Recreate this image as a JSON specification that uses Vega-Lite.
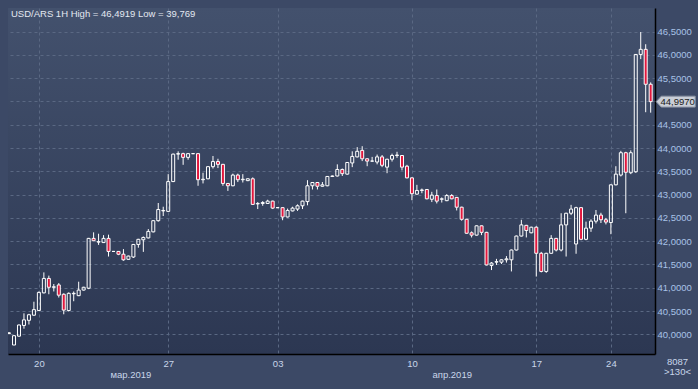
{
  "$schema": "https://vega.github.io/schema/vega-lite/v6.json",
  "width": 647,
  "height": 346,
  "autosize": {"type": "none"},
  "padding": {"left": 8, "top": 8, "right": 43, "bottom": 35},
  "background": "#3c4966",
  "title": {"text": "USD/ARS 1H High = 46,4919 Low = 39,769", "anchor": "start", "orient": "top", "offset": -18.5, "dx": 3, "baseline": "alphabetic", "font": "Liberation Sans", "fontSize": 9.5, "fontWeight": "normal", "color": "#e3e8f1"},
  "config": {
    "font": "Liberation Sans",
    "locale": {"number": {"decimal": ",", "thousands": " ", "grouping": [3], "currency": ["", ""]}},
    "view": {"stroke": null, "fill": {"gradient": "linear", "x1": 0, "y1": 0, "x2": 0, "y2": 1, "stops": [{"offset": 0, "color": "#43516d"}, {"offset": 1, "color": "#2c3752"}]}}
  },
  "data": {"values": [
    {"i":0,"o":40.02,"h":40.05,"l":40.0,"c":40.03},
    {"i":1,"o":39.77,"h":39.98,"l":39.769,"c":39.97},
    {"i":2,"o":39.96,"h":40.21,"l":39.95,"c":40.2},
    {"i":3,"o":40.19,"h":40.45,"l":40.12,"c":40.31},
    {"i":4,"o":40.3,"h":40.44,"l":40.21,"c":40.42},
    {"i":5,"o":40.41,"h":40.7,"l":40.4,"c":40.53},
    {"i":6,"o":40.51,"h":40.92,"l":40.5,"c":40.9},
    {"i":7,"o":40.89,"h":41.33,"l":40.88,"c":41.2},
    {"i":8,"o":41.2,"h":41.26,"l":40.86,"c":41.01},
    {"i":9,"o":41.01,"h":41.08,"l":40.92,"c":41.02},
    {"i":10,"o":41.06,"h":41.1,"l":40.79,"c":40.84},
    {"i":11,"o":40.86,"h":40.88,"l":40.43,"c":40.52},
    {"i":12,"o":40.51,"h":40.9,"l":40.49,"c":40.88},
    {"i":13,"o":40.87,"h":40.92,"l":40.71,"c":40.88},
    {"i":14,"o":40.83,"h":41.13,"l":40.82,"c":40.95},
    {"i":15,"o":40.95,"h":41.02,"l":40.94,"c":41.01},
    {"i":16,"o":40.99,"h":42.07,"l":40.97,"c":42.06},
    {"i":17,"o":42.06,"h":42.19,"l":42.0,"c":42.01},
    {"i":18,"o":41.98,"h":42.16,"l":41.92,"c":41.99},
    {"i":19,"o":41.97,"h":42.13,"l":41.96,"c":42.06},
    {"i":20,"o":42.06,"h":42.14,"l":41.67,"c":41.78},
    {"i":21,"o":41.78,"h":41.79,"l":41.77,"c":41.78},
    {"i":22,"o":41.78,"h":41.79,"l":41.7,"c":41.72},
    {"i":23,"o":41.72,"h":41.83,"l":41.58,"c":41.6},
    {"i":24,"o":41.61,"h":41.69,"l":41.6,"c":41.68},
    {"i":25,"o":41.66,"h":41.94,"l":41.64,"c":41.93},
    {"i":26,"o":41.93,"h":42.05,"l":41.86,"c":42.04},
    {"i":27,"o":42.03,"h":42.1,"l":41.77,"c":42.08},
    {"i":28,"o":42.07,"h":42.26,"l":42.06,"c":42.21},
    {"i":29,"o":42.2,"h":42.45,"l":42.19,"c":42.44},
    {"i":30,"o":42.44,"h":42.82,"l":42.42,"c":42.68},
    {"i":31,"o":42.65,"h":42.74,"l":42.54,"c":42.66},
    {"i":32,"o":42.64,"h":43.44,"l":42.63,"c":43.28},
    {"i":33,"o":43.28,"h":43.88,"l":43.27,"c":43.87},
    {"i":34,"o":43.87,"h":43.93,"l":43.75,"c":43.88},
    {"i":35,"o":43.88,"h":43.9,"l":43.64,"c":43.8},
    {"i":36,"o":43.8,"h":43.89,"l":43.75,"c":43.88},
    {"i":37,"o":43.88,"h":43.89,"l":43.87,"c":43.88},
    {"i":38,"o":43.88,"h":43.89,"l":43.19,"c":43.32},
    {"i":39,"o":43.32,"h":43.47,"l":43.24,"c":43.33},
    {"i":40,"o":43.34,"h":43.61,"l":43.33,"c":43.6},
    {"i":41,"o":43.6,"h":43.83,"l":43.56,"c":43.71},
    {"i":42,"o":43.71,"h":43.77,"l":43.57,"c":43.65},
    {"i":43,"o":43.65,"h":43.66,"l":43.19,"c":43.24},
    {"i":44,"o":43.24,"h":43.25,"l":43.08,"c":43.19},
    {"i":45,"o":43.19,"h":43.45,"l":43.18,"c":43.42},
    {"i":46,"o":43.42,"h":43.45,"l":43.27,"c":43.32},
    {"i":47,"o":43.32,"h":43.44,"l":43.26,"c":43.33},
    {"i":48,"o":43.3,"h":43.35,"l":43.29,"c":43.34},
    {"i":49,"o":43.34,"h":43.37,"l":42.78,"c":42.79},
    {"i":50,"o":42.8,"h":42.84,"l":42.69,"c":42.81},
    {"i":51,"o":42.81,"h":42.86,"l":42.76,"c":42.83},
    {"i":52,"o":42.81,"h":42.89,"l":42.8,"c":42.86},
    {"i":53,"o":42.86,"h":42.87,"l":42.69,"c":42.71},
    {"i":54,"o":42.72,"h":42.73,"l":42.71,"c":42.72},
    {"i":55,"o":42.72,"h":42.73,"l":42.45,"c":42.52},
    {"i":56,"o":42.52,"h":42.7,"l":42.51,"c":42.66},
    {"i":57,"o":42.65,"h":42.74,"l":42.64,"c":42.71},
    {"i":58,"o":42.69,"h":42.79,"l":42.65,"c":42.76},
    {"i":59,"o":42.76,"h":42.87,"l":42.69,"c":42.86},
    {"i":60,"o":42.85,"h":43.31,"l":42.77,"c":43.19},
    {"i":61,"o":43.19,"h":43.27,"l":43.11,"c":43.26},
    {"i":62,"o":43.26,"h":43.27,"l":43.11,"c":43.18},
    {"i":63,"o":43.18,"h":43.27,"l":43.17,"c":43.21},
    {"i":64,"o":43.19,"h":43.4,"l":43.18,"c":43.39},
    {"i":65,"o":43.39,"h":43.41,"l":43.38,"c":43.4},
    {"i":66,"o":43.4,"h":43.65,"l":43.39,"c":43.54},
    {"i":67,"o":43.54,"h":43.56,"l":43.4,"c":43.45},
    {"i":68,"o":43.44,"h":43.7,"l":43.43,"c":43.69},
    {"i":69,"o":43.68,"h":43.93,"l":43.59,"c":43.82},
    {"i":70,"o":43.81,"h":44.02,"l":43.8,"c":43.93},
    {"i":71,"o":43.95,"h":44.04,"l":43.72,"c":43.77},
    {"i":72,"o":43.77,"h":43.78,"l":43.61,"c":43.72},
    {"i":73,"o":43.72,"h":43.81,"l":43.71,"c":43.72},
    {"i":74,"o":43.7,"h":43.86,"l":43.65,"c":43.81},
    {"i":75,"o":43.81,"h":43.85,"l":43.59,"c":43.63},
    {"i":76,"o":43.59,"h":43.77,"l":43.46,"c":43.76},
    {"i":77,"o":43.76,"h":43.88,"l":43.71,"c":43.84},
    {"i":78,"o":43.84,"h":43.92,"l":43.79,"c":43.85},
    {"i":79,"o":43.84,"h":43.85,"l":43.52,"c":43.59},
    {"i":80,"o":43.61,"h":43.64,"l":43.35,"c":43.36},
    {"i":81,"o":43.36,"h":43.37,"l":42.88,"c":43.02},
    {"i":82,"o":43.01,"h":43.21,"l":43.0,"c":43.09},
    {"i":83,"o":43.09,"h":43.13,"l":43.03,"c":43.1},
    {"i":84,"o":43.11,"h":43.12,"l":42.9,"c":42.91},
    {"i":85,"o":42.9,"h":43.06,"l":42.84,"c":42.99},
    {"i":86,"o":42.98,"h":43.11,"l":42.81,"c":42.86},
    {"i":87,"o":42.9,"h":42.94,"l":42.83,"c":42.91},
    {"i":88,"o":42.87,"h":43.01,"l":42.86,"c":42.98},
    {"i":89,"o":42.98,"h":43.01,"l":42.9,"c":42.91},
    {"i":90,"o":42.94,"h":42.95,"l":42.66,"c":42.73},
    {"i":91,"o":42.73,"h":42.74,"l":42.44,"c":42.47},
    {"i":92,"o":42.47,"h":42.48,"l":42.16,"c":42.17},
    {"i":93,"o":42.18,"h":42.21,"l":42.08,"c":42.13},
    {"i":94,"o":42.13,"h":42.34,"l":42.12,"c":42.33},
    {"i":95,"o":42.33,"h":42.34,"l":42.13,"c":42.19},
    {"i":96,"o":42.19,"h":42.2,"l":41.48,"c":41.49},
    {"i":97,"o":41.48,"h":41.55,"l":41.38,"c":41.53},
    {"i":98,"o":41.55,"h":41.62,"l":41.49,"c":41.56},
    {"i":99,"o":41.55,"h":41.61,"l":41.51,"c":41.6},
    {"i":100,"o":41.6,"h":41.68,"l":41.54,"c":41.62},
    {"i":101,"o":41.6,"h":41.82,"l":41.35,"c":41.81},
    {"i":102,"o":41.81,"h":42.12,"l":41.8,"c":42.11},
    {"i":103,"o":42.11,"h":42.46,"l":42.1,"c":42.35},
    {"i":104,"o":42.34,"h":42.35,"l":42.08,"c":42.23},
    {"i":105,"o":42.18,"h":42.31,"l":42.17,"c":42.3},
    {"i":106,"o":42.3,"h":42.32,"l":41.24,"c":41.74},
    {"i":107,"o":41.74,"h":41.77,"l":41.33,"c":41.35},
    {"i":108,"o":41.35,"h":41.75,"l":41.32,"c":41.74},
    {"i":109,"o":41.74,"h":42.13,"l":41.73,"c":42.06},
    {"i":110,"o":42.06,"h":42.07,"l":41.78,"c":41.81},
    {"i":111,"o":41.81,"h":42.6,"l":41.78,"c":42.35},
    {"i":112,"o":42.35,"h":42.61,"l":41.67,"c":42.6},
    {"i":113,"o":42.6,"h":42.78,"l":42.56,"c":42.69},
    {"i":114,"o":41.94,"h":42.74,"l":41.73,"c":42.72},
    {"i":115,"o":42.72,"h":42.73,"l":42.02,"c":42.04},
    {"i":116,"o":42.04,"h":42.42,"l":42.02,"c":42.28},
    {"i":117,"o":42.28,"h":42.47,"l":42.2,"c":42.43},
    {"i":118,"o":42.43,"h":42.67,"l":42.38,"c":42.56},
    {"i":119,"o":42.56,"h":42.61,"l":42.39,"c":42.46},
    {"i":120,"o":42.46,"h":42.5,"l":42.36,"c":42.41},
    {"i":121,"o":42.4,"h":43.22,"l":42.15,"c":43.21},
    {"i":122,"o":43.21,"h":43.61,"l":43.2,"c":43.44},
    {"i":123,"o":43.42,"h":43.94,"l":43.39,"c":43.9},
    {"i":124,"o":43.9,"h":43.92,"l":42.6,"c":43.48},
    {"i":125,"o":43.47,"h":43.95,"l":43.44,"c":43.9},
    {"i":126,"o":43.49,"h":46.02,"l":43.47,"c":46.01},
    {"i":127,"o":46.01,"h":46.4919,"l":45.91,"c":46.12},
    {"i":128,"o":46.12,"h":46.23,"l":44.77,"c":45.37},
    {"i":129,"o":45.37,"h":45.41,"l":44.76,"c":44.997}
  ]},
  "transform": [
    {"calculate": "max(datum.o, datum.c)", "as": "top"},
    {"calculate": "min(datum.o, datum.c)", "as": "bot"}
  ],
  "resolve": {"axis": {"x": "independent"}},
  "layer": [
    {
      "mark": {"type": "rule", "color": "#ffffff", "strokeWidth": 1, "clip": true},
      "encoding": {
        "x": {"field": "i", "type": "quantitative",
          "scale": {"domain": [-0.21, 129.87], "nice": false, "zero": false, "padding": 0},
          "axis": {"orient": "bottom", "values": [6, 32, 54, 81, 106, 121],
            "labelExpr": "datum.value == 6 ? '20' : datum.value == 32 ? '27' : datum.value == 54 ? '03' : datum.value == 81 ? '10' : datum.value == 106 ? '17' : '24'",
            "grid": true, "gridColor": "#5a6883", "gridDash": [3, 3], "gridWidth": 1,
            "ticks": false, "domain": true, "domainColor": "#000000", "domainWidth": 1.5,
            "labelColor": "#c9d6ea", "labelFont": "Liberation Sans", "labelFontSize": 9.5, "labelPadding": 4,
            "labelOverlap": false, "labelFlush": false,
            "title": "8087", "titleX": 669, "titleY": 2.5, "titleBaseline": "top", "titleAlign": "center", "titleAngle": 0,
            "titleFont": "Liberation Sans", "titleFontSize": 9.5, "titleFontWeight": "normal", "titleColor": "#c9d6ea"}},
        "y": {"field": "h", "type": "quantitative",
          "scale": {"domain": [39.577, 47.008], "nice": false, "zero": false},
          "axis": {"orient": "right", "values": [40, 40.5, 41, 41.5, 42, 42.5, 43, 43.5, 44, 44.5, 45, 45.5, 46, 46.5],
            "format": ".4f", "labelExpr": "datum.value == 45 ? '' : datum.label",
            "grid": true, "gridColor": "#5a6883", "gridDash": [3, 3], "gridWidth": 1, "zindex": 0,
            "ticks": false, "domain": true, "domainColor": "#000000", "domainWidth": 1.5,
            "labelColor": "#a9c2e6", "labelFont": "Liberation Sans", "labelFontSize": 9.5, "labelPadding": 2, "title": null}},
        "y2": {"field": "top"}
      }
    },
    {
      "mark": {"type": "rule", "color": "#ffffff", "strokeWidth": 1, "clip": true},
      "encoding": {
        "x": {"field": "i", "type": "quantitative",
          "scale": {"domain": [-0.21, 129.87], "nice": false, "zero": false, "padding": 0},
          "axis": {"orient": "bottom", "values": [24.4, 89],
            "labelExpr": "datum.value < 50 ? 'мар.2019' : 'апр.2019'",
            "grid": false, "ticks": false, "domain": false,
            "labelColor": "#c9d6ea", "labelFont": "Liberation Sans", "labelFontSize": 9.5, "labelPadding": 15,
            "labelOverlap": false, "labelFlush": false,
            "title": ">130<", "titleX": 669, "titleY": 12.5, "titleBaseline": "top", "titleAlign": "center", "titleAngle": 0,
            "titleFont": "Liberation Sans", "titleFontSize": 9.5, "titleFontWeight": "normal", "titleColor": "#c9d6ea"}},
        "y": {"field": "bot", "type": "quantitative",
          "scale": {"domain": [39.577, 47.008], "nice": false, "zero": false},
          "axis": {"orient": "right", "values": [40, 40.5, 41, 41.5, 42, 42.5, 43, 43.5, 44, 44.5, 45, 45.5, 46, 46.5],
            "format": ".4f", "labelExpr": "datum.value == 45 ? '' : datum.label",
            "grid": true, "gridColor": "#5a6883", "gridDash": [3, 3], "gridWidth": 1, "zindex": 0,
            "ticks": false, "domain": true, "domainColor": "#000000", "domainWidth": 1.5,
            "labelColor": "#a9c2e6", "labelFont": "Liberation Sans", "labelFontSize": 9.5, "labelPadding": 2, "title": null}},
        "y2": {"field": "l"}
      }
    },
    {
      "mark": {"type": "bar", "width": 3, "stroke": "#ffffff", "strokeWidth": 1, "clip": true},
      "encoding": {
        "x": {"field": "i", "type": "quantitative",
          "scale": {"domain": [-0.21, 129.87], "nice": false, "zero": false, "padding": 0}, "axis": null},
        "y": {"field": "o", "type": "quantitative",
          "scale": {"domain": [39.577, 47.008], "nice": false, "zero": false},
          "axis": {"orient": "right", "values": [40, 40.5, 41, 41.5, 42, 42.5, 43, 43.5, 44, 44.5, 45, 45.5, 46, 46.5],
            "format": ".4f", "labelExpr": "datum.value == 45 ? '' : datum.label",
            "grid": true, "gridColor": "#5a6883", "gridDash": [3, 3], "gridWidth": 1, "zindex": 0,
            "ticks": false, "domain": true, "domainColor": "#000000", "domainWidth": 1.5,
            "labelColor": "#a9c2e6", "labelFont": "Liberation Sans", "labelFontSize": 9.5, "labelPadding": 2, "title": null}},
        "y2": {"field": "c"},
        "fill": {"condition": {"test": "datum.c < datum.o", "value": "#e2173d"}, "value": "transparent"}
      }
    },
    {
      "transform": [{"filter": "datum.i == 129"}],
      "mark": {"type": "point", "shape": "M -1 0 L -0.74 -0.28 L 1 -0.28 L 1 0.28 L -0.74 0.28 Z", "size": 1521, "filled": true, "fill": "#c9ced7", "stroke": "#8a93a3", "strokeWidth": 1, "opacity": 1, "xOffset": 25},
      "encoding": {
        "x": {"field": "i", "type": "quantitative",
          "scale": {"domain": [-0.21, 129.87], "nice": false, "zero": false, "padding": 0}, "axis": null},
        "y": {"field": "c", "type": "quantitative",
          "scale": {"domain": [39.577, 47.008], "nice": false, "zero": false},
          "axis": {"orient": "right", "values": [40, 40.5, 41, 41.5, 42, 42.5, 43, 43.5, 44, 44.5, 45, 45.5, 46, 46.5],
            "format": ".4f", "labelExpr": "datum.value == 45 ? '' : datum.label",
            "grid": true, "gridColor": "#5a6883", "gridDash": [3, 3], "gridWidth": 1, "zindex": 0,
            "ticks": false, "domain": true, "domainColor": "#000000", "domainWidth": 1.5,
            "labelColor": "#a9c2e6", "labelFont": "Liberation Sans", "labelFontSize": 9.5, "labelPadding": 2, "title": null}}
      }
    },
    {
      "transform": [{"filter": "datum.i == 129"}],
      "mark": {"type": "text", "dx": 27, "align": "center", "baseline": "middle", "font": "Liberation Sans", "fontSize": 9.5, "color": "#1b1b1b"},
      "encoding": {
        "x": {"field": "i", "type": "quantitative",
          "scale": {"domain": [-0.21, 129.87], "nice": false, "zero": false, "padding": 0}, "axis": null},
        "y": {"field": "c", "type": "quantitative",
          "scale": {"domain": [39.577, 47.008], "nice": false, "zero": false},
          "axis": {"orient": "right", "values": [40, 40.5, 41, 41.5, 42, 42.5, 43, 43.5, 44, 44.5, 45, 45.5, 46, 46.5],
            "format": ".4f", "labelExpr": "datum.value == 45 ? '' : datum.label",
            "grid": true, "gridColor": "#5a6883", "gridDash": [3, 3], "gridWidth": 1, "zindex": 0,
            "ticks": false, "domain": true, "domainColor": "#000000", "domainWidth": 1.5,
            "labelColor": "#a9c2e6", "labelFont": "Liberation Sans", "labelFontSize": 9.5, "labelPadding": 2, "title": null}},
        "text": {"field": "c", "format": ".4f"}
      }
    }
  ]
}
